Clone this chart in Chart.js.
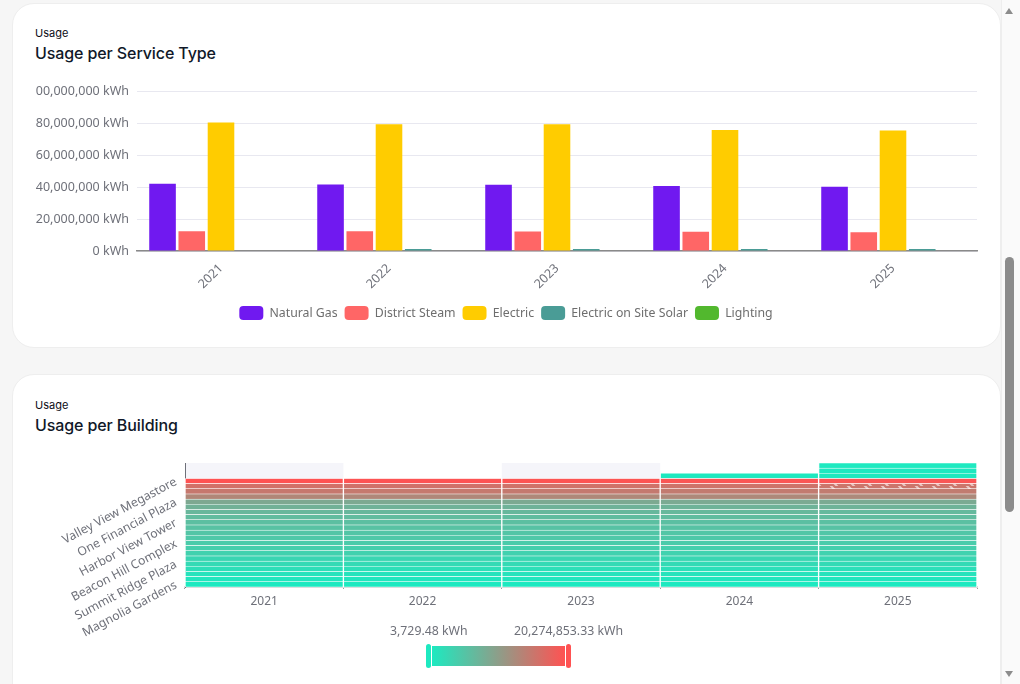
<!DOCTYPE html>
<html>
<head>
<meta charset="utf-8">
<title>Usage</title>
<script src="https://cdn.jsdelivr.net/npm/chart.js@4/dist/chart.umd.min.js"></script>
<style>
  html, body { margin: 0; height: 100%; overflow: hidden; background: #f6f6f6; font-family: Inter, sans-serif; }
  .card { position: absolute; left: 12px; width: 989px; background: #fff; border: 1px solid #eeeeee; border-radius: 22px; box-sizing: border-box; }
  .eyebrow { position: absolute; left: 35px; font-size: 11px; font-weight: 400; color: #0b0b14; }
  .title { position: absolute; left: 35px; font-size: 16px; font-weight: 500; letter-spacing: -0.1px; color: #101828; }
  canvas { position: absolute; }
  .range { position: absolute; font: 12.3px "Noto Sans", sans-serif; color: #6e7079; white-space: nowrap; }
  .ramp { position: absolute; left: 432px; top: 646px; width: 133px; height: 20px; background: linear-gradient(to right, #1de9c0, #ff5252); }
  .handle { position: absolute; top: 644px; width: 5px; height: 24px; border-radius: 3px; }
  .scrollbar { position: absolute; left: 1001px; top: 0; width: 19px; height: 684px; background: #fafafa; border-left: 1px solid #eeeeee; box-sizing: border-box; }
  .thumb { position: absolute; left: 3px; top: 257px; width: 9px; height: 255px; border-radius: 5px; background: #8c8c8c; }
  .arrow { position: absolute; left: 3px; width: 0; height: 0; border-left: 4.5px solid transparent; border-right: 4.5px solid transparent; }
</style>
</head>
<body>
<div class="card" style="top:3px;height:345px"></div>
<div class="card" style="top:374px;height:340px"></div>
<div class="eyebrow" style="top:26px">Usage</div>
<div class="title" style="top:43px">Usage per Service Type</div>
<div class="eyebrow" style="top:398px">Usage</div>
<div class="title" style="top:415px">Usage per Building</div>
<canvas id="serviceChart"></canvas>
<canvas id="buildingChart"></canvas>
<div class="range" id="rangeMin" style="left:390px;top:622px"></div>
<div class="range" id="rangeMax" style="left:514px;top:622px"></div>
<div class="ramp"></div>
<div class="handle" style="left:426px;background:#1de9c0"></div>
<div class="handle" style="left:566px;background:#ff5252"></div>
<div class="scrollbar">
  <div class="arrow" style="top:8px;border-bottom:6px solid #8c8c8c"></div>
  <div class="thumb"></div>
  <div class="arrow" style="top:671px;border-top:6px solid #8c8c8c"></div>
</div>
<script>
const years = ["2021", "2022", "2023", "2024", "2025"]

// usage per service type, kWh
const naturalGas = [42100000, 41700000, 41600000, 40700000, 40300000]
const districtSteam = [12400000, 12400000, 12300000, 12000000, 11800000]
const electric = [80500000, 79400000, 79400000, 75900000, 75500000]
const onSiteSolar = [0, 1200000, 1200000, 1200000, 1200000]
const lighting = [0, 0, 0, 0, 0]
// the top label is cut off in the reference
const serviceTickLabels = ["0 kWh", "20,000,000 kWh", "40,000,000 kWh", "60,000,000 kWh", "80,000,000 kWh", "00,000,000 kWh"]

// usage per building, bottom row first, kWh. null = no reading
const usage2021 = [3729, 405000, 811000, 1420000, 2030000, 2640000, 3240000, 3650000, 4050000, 4460000, 4870000, 5270000, 5680000, 6080000, 6690000, 7500000, 8720000, 13180000, 15200000, 16220000, 20274853, null, null, null]
const usage2022 = [3729, 405000, 830000, 1400000, 2030000, 2600000, 3240000, 3600000, 4050000, 4500000, 4800000, 5270000, 5650000, 6080000, 6650000, 7400000, 8650000, 13100000, 15100000, 16100000, 20100000, null, null, null]
const usage2023 = [3729, 400000, 830000, 1400000, 2050000, 2600000, 3200000, 3600000, 4050000, 4500000, 4800000, 5250000, 5650000, 6050000, 6650000, 7400000, 8600000, 13000000, 15000000, 16000000, 20000000, null, null, null]
const usage2024 = [3729, 390000, 800000, 1380000, 2000000, 2550000, 3150000, 3550000, 4000000, 4400000, 4750000, 5200000, 5600000, 6000000, 6600000, 7300000, 8500000, 12900000, 14800000, 15800000, 19800000, 120000, null, null]
const usage2025 = [3729, 390000, 800000, 1360000, 2000000, 2550000, 3150000, 3500000, 3950000, 4400000, 4700000, 5200000, 5550000, 6000000, 6500000, 7300000, 8450000, 12800000, 14700000, 15600000, 19700000, 120000, 90000, 60000]
const buildingRows = [0, 4, 8, 12, 16, 20]
const buildingLabels = ["Magnolia Gardens", "Summit Ridge Plaza", "Beacon Hill Complex", "Harbor View Tower", "One Financial Plaza", "Valley View Megastore"]
const hatchedRow = 19
const hatchedYear = 4
const rangeMin = 3729.48
const rangeMax = 20274853.33

const lowColor = [0x1d, 0xe9, 0xc0]
const highColor = [0xff, 0x52, 0x52]

function usageColor(value) {
  const t = (value - rangeMin) / (rangeMax - rangeMin)
  const c = lowColor.map((low, i) => Math.round(low + (highColor[i] - low) * Math.min(Math.max(t, 0), 1)))
  return `rgb(${c[0]},${c[1]},${c[2]})`
}

function hatch(color) {
  const tile = document.createElement("canvas")
  tile.width = 17
  tile.height = 6
  const g = tile.getContext("2d")
  g.fillStyle = color
  g.fillRect(0, 0, 17, 6)
  g.strokeStyle = "rgba(255,255,255,0.6)"
  g.lineWidth = 2
  g.beginPath()
  g.moveTo(0, -2)
  g.lineTo(10, 8)
  g.stroke()
  return g.createPattern(tile, "repeat")
}

function kwh(value) {
  return value.toLocaleString("en-US", { minimumFractionDigits: 2, maximumFractionDigits: 2 }) + " kWh"
}
document.getElementById("rangeMin").textContent = kwh(rangeMin)
document.getElementById("rangeMax").textContent = kwh(rangeMax)

const SERVICES = [
  { label: "Natural Gas", data: naturalGas, color: "#7019f0" },
  { label: "District Steam", data: districtSteam, color: "#ff6666" },
  { label: "Electric", data: electric, color: "#ffcc00" },
  { label: "Electric on Site Solar", data: onSiteSolar, color: "#4a9c96" },
  { label: "Lighting", data: lighting, color: "#52b82e" },
]

function sizeCanvas(id, left, top, width, height) {
  const canvas = document.getElementById(id)
  canvas.style.left = left + "px"
  canvas.style.top = top + "px"
  canvas.width = width
  canvas.height = height
  return canvas
}

Chart.defaults.animation = false
Chart.defaults.font.family = '"Noto Sans", sans-serif'

new Chart(sizeCanvas("serviceChart", 30, 76, 950, 254), {
  type: "bar",
  data: {
    labels: years,
    datasets: SERVICES.map((s) => ({
      label: s.label,
      data: s.data,
      backgroundColor: s.color,
      borderWidth: 0,
      categoryPercentage: 0.87,
      barPercentage: 0.91,
    })),
  },
  options: {
    responsive: false,
    layout: { padding: { top: 7, right: 3, left: 5 } },
    plugins: {
      tooltip: { enabled: false },
      legend: {
        position: "bottom",
        labels: {
          boxWidth: 24,
          boxHeight: 14,
          padding: 7,
          color: "#6e6e6e",
          font: { size: 12.3 },
          useBorderRadius: true,
          borderRadius: 4,
        },
      },
    },
    scales: {
      x: {
        grid: { display: false },
        border: { color: "#8a8a8a", width: 1.5 },
        afterFit: (scale) => { scale.height = 48 },
        ticks: { color: "#6e7079", font: { size: 12.5 }, minRotation: 45, maxRotation: 45, padding: 2 },
      },
      y: {
        min: 0,
        max: 100000000,
        afterFit: (scale) => { scale.width = 102 },
        grid: { color: "#e8e8f0", drawTicks: false },
        border: { display: false },
        ticks: {
          stepSize: 20000000,
          padding: 8,
          color: "#6e7079",
          font: { size: 12.5 },
          callback: (value) => serviceTickLabels[value / 20000000],
        },
      },
    },
  },
})

const yearRows = [usage2021, usage2022, usage2023, usage2024, usage2025]

const splitAreaPlugin = {
  id: "splitArea",
  beforeDraw(chart) {
    const { ctx, chartArea, scales } = chart
    const step = scales.x.width / years.length
    ctx.save()
    ctx.fillStyle = "#f5f5fa"
    years.forEach((year, i) => {
      if (i % 2 === 0) {
        ctx.fillRect(scales.x.getPixelForValue(i) - step / 2, chartArea.top, step, chartArea.height)
      }
    })
    ctx.restore()
  },
}

new Chart(sizeCanvas("buildingChart", 30, 450, 950, 200), {
  type: "bar",
  data: {
    labels: years,
    datasets: usage2021.map((_, row) => ({
      data: yearRows.map((usage) => (usage[row] === null ? null : 1)),
      backgroundColor: yearRows.map((usage, y) =>
        usage[row] === null ? "transparent"
          : row === hatchedRow && y === hatchedYear ? hatch(usageColor(usage[row]))
          : usageColor(usage[row])
      ),
      borderColor: "#ffffff",
      borderWidth: { top: 0.6, bottom: 0.6, left: 1, right: 1 },
      borderSkipped: false,
      categoryPercentage: 1,
      barPercentage: 1,
    })),
  },
  options: {
    responsive: false,
    layout: { padding: { top: 13, right: 3 } },
    plugins: { legend: { display: false }, tooltip: { enabled: false } },
    scales: {
      x: {
        stacked: true,
        grid: { drawOnChartArea: false, tickLength: 2, color: "#999999" },
        border: { color: "#dddddd", width: 2 },
        afterFit: (scale) => { scale.height = 63 },
        ticks: { color: "#6e7079", font: { size: 12 }, maxRotation: 0, padding: 5 },
      },
      y: {
        stacked: true,
        min: 0,
        max: usage2021.length,
        afterFit: (scale) => { scale.width = 155 },
        afterBuildTicks: (scale) => { scale.ticks = buildingRows.map((row) => ({ value: row + 0.5 })) },
        grid: { display: false },
        border: { color: "#6e7079", width: 1 },
        ticks: {
          autoSkip: false,
          minRotation: 28,
          maxRotation: 28,
          padding: 1,
          color: "#6e7079",
          font: { size: 12.2 },
          callback: (value) => buildingLabels[buildingRows.indexOf(value - 0.5)],
        },
      },
    },
  },
  plugins: [splitAreaPlugin],
})
</script>
</body>
</html>
